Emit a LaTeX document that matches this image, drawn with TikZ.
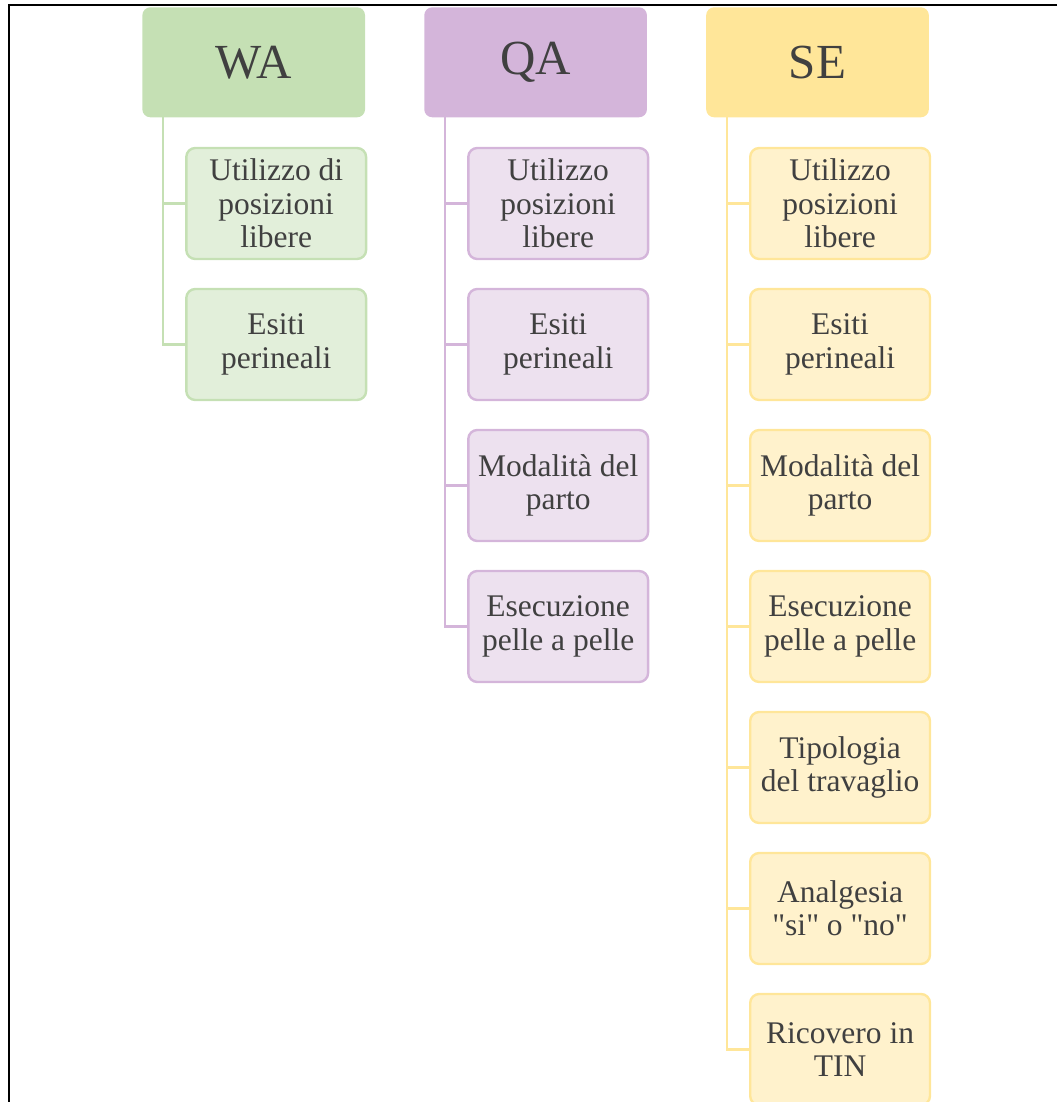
\documentclass[tikz,border=0pt]{standalone}
\usepackage{fontspec}
\setmainfont{Liberation Serif}
\usetikzlibrary{positioning}
\definecolor{txt}{HTML}{404040}
\definecolor{gHd}{HTML}{C5E0B4}
\definecolor{gLf}{HTML}{E2EFDA}
\definecolor{pHd}{HTML}{D4B5DA}
\definecolor{pLf}{HTML}{EDE1EF}
\definecolor{yHd}{HTML}{FFE699}
\definecolor{yLf}{HTML}{FFF2CC}
\tikzset{
  hdr/.style={rounded corners=8pt,minimum width=222.7pt,minimum height=110pt,inner sep=0pt,text=txt,font=\fontsize{49}{55}\selectfont},
  leaf/.style={draw,line width=2.4pt,rounded corners=9pt,minimum width=179.8pt,minimum height=111pt,inner sep=0pt,align=center,text=txt,font=\fontsize{31.5}{33.3}\selectfont},
  link/.style={line width=2.2pt},
}
\begin{document}
\begin{tikzpicture}[x=1pt,y=-1pt]
\useasboundingbox (0,0) rectangle (1057,1102);
% frame
\draw[line width=2pt] (1057,5.5) -- (8.5,5.5) -- (8.5,1102);
% headers
\foreach \nm/\xx/\lab/\fc in {wa/253.7/WA/gHd,qa/535.6/QA/pHd,se/817.5/SE/yHd}
  \node[hdr,fill=\fc] (\nm) at (\xx,62.3) {\lab};
% WA
\foreach \t [count=\i] in {{Utilizzo di\\posizioni\\libere},{Esiti\\perineali}} {
  \draw[link,gHd] ([xshift=21pt]wa.south west) |- (276.2,{203.5+141*(\i-1)});
  \node[leaf,draw=gHd,fill=gLf] (wa\i) at (276.2,{203.5+141*(\i-1)}) {\t};
}
% QA
\foreach \t [count=\i] in {{Utilizzo\\posizioni\\libere},{Esiti\\perineali},{Modalità del\\parto},{Esecuzione\\pelle a pelle}} {
  \draw[link,pHd] ([xshift=21pt]qa.south west) |- (558.2,{203.5+141*(\i-1)});
  \node[leaf,draw=pHd,fill=pLf] (qa\i) at (558.2,{203.5+141*(\i-1)}) {\t};
}
% SE
\foreach \t [count=\i] in {{Utilizzo\\posizioni\\libere},{Esiti\\perineali},{Modalità del\\parto},{Esecuzione\\pelle a pelle},{Tipologia\\del travaglio},{Analgesia\\\textquotedbl si\textquotedbl{} o \textquotedbl no\textquotedbl},{Ricovero in\\TIN}} {
  \draw[link,yHd] ([xshift=21pt]se.south west) |- (840.1,{203.5+141*(\i-1)});
  \node[leaf,draw=yHd,fill=yLf] (se\i) at (840.1,{203.5+141*(\i-1)}) {\t};
}
\end{tikzpicture}
\end{document}
